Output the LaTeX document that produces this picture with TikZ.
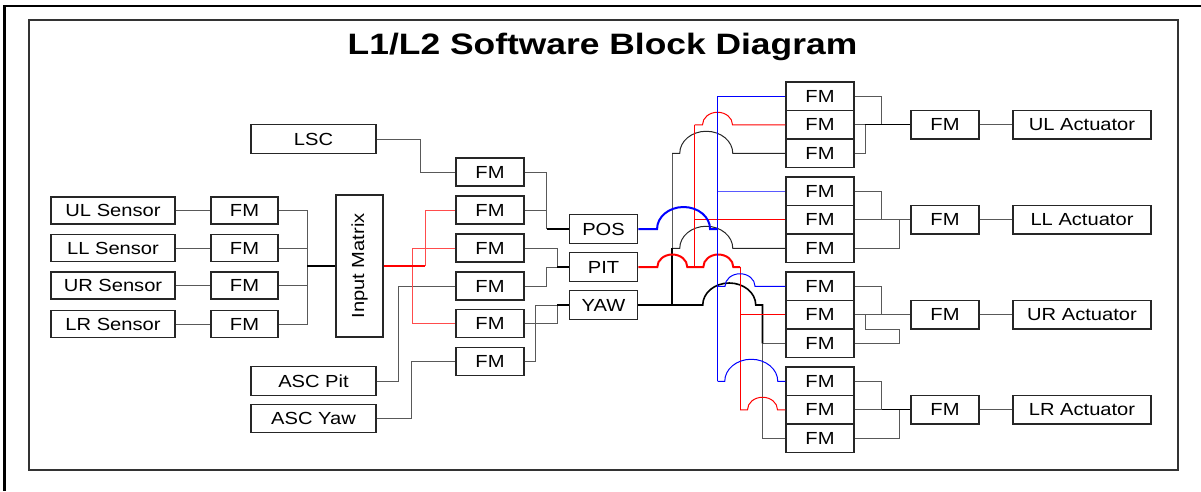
\documentclass[tikz,border=0pt]{standalone}
\usepackage{fontspec}
\setmainfont{Liberation Sans}
\newfontfamily\boxfont{Liberation Sans}[FakeStretch=1.15]
\newfontfamily\ttlfont{Liberation Sans}[FakeStretch=1.2]
\begin{document}
\begin{tikzpicture}[x=1pt,y=-1pt,
  box/.style={draw=black!85,line width=1.1pt,fill=white,inner sep=0pt,
    font=\boxfont\fontsize{17.5}{20}\selectfont},
  senbox/.style={box,minimum width=124pt,minimum height=27pt},
  smallfm/.style={box,minimum width=67pt,minimum height=27pt},
  fmbox/.style={box,minimum width=68pt,minimum height=28.5pt},
  srcbox/.style={box,minimum width=125pt,minimum height=28.5pt},
  actbox/.style={box,minimum width=138pt,minimum height=28.5pt},
  wire/.style={draw=black!65,line width=1pt},
  dwire/.style={draw=black!85,line width=1pt},
  thk/.style={draw=black,line width=2pt},
  lred/.style={draw=red!70,line width=1pt},
]
\useasboundingbox (0,0) rectangle (1201,491);
% frames
\draw[line width=2.5pt] (3,6) -- (1201,6);
\draw[line width=2.5pt] (4.5,5) -- (4.5,491);
\draw[draw=black!80,line width=1.2pt] (29,20) rectangle (1178,470);
\node[font=\ttlfont\bfseries\fontsize{29.5}{32}\selectfont,anchor=base] (title) at (602.5,54) {L1/L2 Software Block Diagram};

% sensors
\node[senbox] (sen1) at (113,210.5) {UL Sensor};
\node[senbox] (sen2) at (113,248) {LL Sensor};
\node[senbox] (sen3) at (113,285.5) {UR Sensor};
\node[senbox] (sen4) at (113,324) {LR Sensor};
\node[smallfm] (sfm1) at (244.5,210.5) {FM};
\node[smallfm] (sfm2) at (244.5,248) {FM};
\node[smallfm] (sfm3) at (244.5,285.5) {FM};
\node[smallfm] (sfm4) at (244.5,324) {FM};
\node[box,minimum width=47pt,minimum height=142pt] (im) at (359.5,266) {\rotatebox{90}{Input Matrix}};

% sources
\node[srcbox] (lsc) at (313.5,139) {LSC};
\node[srcbox] (ascp) at (313.5,381) {ASC Pit};
\node[srcbox] (ascy) at (313.5,418.5) {ASC Yaw};

% column 2 FMs
\node[fmbox,minimum height=28pt] (f1) at (490,172) {FM};
\node[fmbox,minimum height=28pt] (f2) at (490,210) {FM};
\node[fmbox,minimum height=28pt] (f3) at (490,248) {FM};
\node[fmbox,minimum height=28pt] (f4) at (490,286) {FM};
\node[fmbox,minimum height=28pt] (f5) at (490,323.5) {FM};
\node[fmbox,minimum height=28pt] (f6) at (490,361.5) {FM};

% POS PIT YAW
\node[fmbox,minimum width=68.5pt] (pos) at (603.5,229) {POS};
\node[fmbox,minimum width=68.5pt] (pit) at (603.5,267) {PIT};
\node[fmbox,minimum width=68.5pt] (yaw) at (603.5,305) {YAW};

% right stacks
\node[fmbox] (g1a) at (820,96.25) {FM};
\node[fmbox] (g1b) at (820,124.75) {FM};
\node[fmbox] (g1c) at (820,153.25) {FM};
\node[fmbox] (g2a) at (820,191.25) {FM};
\node[fmbox] (g2b) at (820,219.75) {FM};
\node[fmbox] (g2c) at (820,248.25) {FM};
\node[fmbox] (g3a) at (820,286.25) {FM};
\node[fmbox] (g3b) at (820,314.75) {FM};
\node[fmbox] (g3c) at (820,343.25) {FM};
\node[fmbox] (g4a) at (820,381.25) {FM};
\node[fmbox] (g4b) at (820,409.75) {FM};
\node[fmbox] (g4c) at (820,438.25) {FM};

\node[fmbox] (cf1) at (945,124.75) {FM};
\node[fmbox] (cf2) at (945,219.75) {FM};
\node[fmbox] (cf3) at (945,314.75) {FM};
\node[fmbox] (cf4) at (945,409.75) {FM};
\node[actbox] (act1) at (1082,124.75) {UL Actuator};
\node[actbox] (act2) at (1082,219.75) {LL Actuator};
\node[actbox] (act3) at (1082,314.75) {UR Actuator};
\node[actbox] (act4) at (1082,409.75) {LR Actuator};

% sensor wiring
\foreach \i in {1,2,3,4} \draw[wire] (sen\i.east) -- (sfm\i.west);
\coordinate (sbus) at (307,0);
\draw[wire] (sfm1.east) -- (sbus |- sfm1.east) -- (sbus |- sfm4.east) -- (sfm4.east);
\draw[wire] (sfm2.east) -- (sbus |- sfm2.east);
\draw[wire] (sfm3.east) -- (sbus |- sfm3.east);
\draw[thk] (sbus |- im.west) -- (im.west);

% sources wiring
\draw[wire] (lsc.east) -- ++(44,0) |- (f1.west);
\draw[wire] (ascp.east) -- ++(22,0) |- (f4.west);
\draw[wire] (ascy.east) -- ++(35,0) |- (f6.west);

% input matrix red outputs
\coordinate (ra) at (425,0);
\coordinate (rb) at (412,0);
\draw[lred] (ra |- im.east) |- (f2.west);
\draw[lred] (f3.west) -| (rb |- f5.west) -- (f5.west);
\draw[red,line width=2pt] (im.east) -- (ra |- im.east);

% column 2 to POS/PIT/YAW
\coordinate (ca) at (546.5,0);
\coordinate (cb) at (557,0);
\coordinate (cc) at (535,0);
\draw[wire] (f1.east) -| (ca |- pos.west);
\draw[wire] (f2.east) -- (ca |- f2.east);
\draw[thk] (ca |- pos.west) -- (pos.west);
\draw[wire] (f3.east) -| (cb |- pit.west);
\draw[wire] (f4.east) -| (ca |- pit.west) -- (cb |- pit.west);
\draw[thk] (cb |- pit.west) -- (pit.west);
\draw[wire] (f5.east) -| (cb |- yaw.west);
\draw[wire] (f6.east) -| (cc |- yaw.west) -- (cb |- yaw.west);
\draw[thk] (cb |- yaw.west) -- (yaw.west);

% buses on the right
\coordinate (B1) at (672,0);
\coordinate (R1) at (694.5,0);
\coordinate (BL) at (717.5,0);
\coordinate (R2) at (740,0);
\coordinate (B2) at (762.5,0);

% black (YAW)
\draw[wire] (B1 |- g2c.west) -- (B1 |- g1c.west);
\draw[dwire] (B1 |- g1c.west) -- ++(7.75,0) arc[start angle=180,end angle=0,x radius=26.5pt,y radius=22pt] -- (g1c.west);
\draw[dwire] (B1 |- g2c.west) -- ++(7.75,0) arc[start angle=180,end angle=0,x radius=26.5pt,y radius=22pt] -- (g2c.west);
\draw[wire] (B2 |- g3c.west) -- (B2 |- g4c.west) -- (g4c.west);
\draw[wire] (B2 |- g3c.west) -- (g3c.west);
\draw[black,line width=1.6pt] (B1 |- yaw.east) -- ++(30.75,0) arc[start angle=180,end angle=0,x radius=26.5pt,y radius=22pt] -- (B2 |- yaw.east) -- (B2 |- g3c.west);
\draw[thk] (B1 |- yaw.east) -- (B1 |- g2c.west);
\draw[thk] (yaw.east) -- (B1 |- yaw.east);

% red (PIT)
\draw[red,line width=1pt] (R1 |- pit.east) -- (R1 |- g1b.west);
\draw[red,line width=1pt] (R1 |- g1b.west) -- ++(8,0) arc[start angle=180,end angle=0,x radius=15pt,y radius=12.5pt] -- (g1b.west);
\draw[red,line width=1pt] (R1 |- g2b.west) -- (g2b.west);
\draw[red,line width=1pt] (R2 |- pit.east) -- (R2 |- g4b.west);
\draw[red,line width=1pt] (R2 |- g3b.west) -- (g3b.west);
\draw[red,line width=1pt] (R2 |- g4b.west) -- ++(7.5,0) arc[start angle=180,end angle=0,x radius=15pt,y radius=12.5pt] -- (g4b.west);
\draw[red,line width=2pt] (pit.east) -- ++(19,0) arc[start angle=180,end angle=0,x radius=15pt,y radius=12.5pt] -- ++(16,0) arc[start angle=180,end angle=0,x radius=15pt,y radius=12.5pt] -- (R2 |- pit.east);

% blue (POS)
\draw[blue,line width=1pt] (BL |- g1a.west) -- (BL |- g4a.west);
\draw[blue,line width=1pt] (BL |- g1a.west) -- (g1a.west);
\draw[blue!65,line width=1pt] (BL |- g2a.west) -- (g2a.west);
\draw[blue,line width=1pt] (BL |- g3a.west) -- ++(7.5,0) arc[start angle=180,end angle=0,x radius=15pt,y radius=12.5pt] -- (g3a.west);
\draw[blue,line width=1pt] (BL |- g4a.west) -- ++(7.25,0) arc[start angle=180,end angle=0,x radius=26.5pt,y radius=22pt] -- (g4a.west);
\draw[blue,line width=2pt] (pos.east) -- ++(18.75,0) arc[start angle=180,end angle=0,x radius=26.5pt,y radius=22pt] -- (BL |- pos.east);

% stacks to combined FMs
\coordinate (xa) at (865,0);
\coordinate (xb) at (881.7,0);
\coordinate (xc) at (899.3,0);
\draw[wire] (g1a.east) -| (xb |- g1b.east);
\draw[wire] (g1b.east) -- (cf1.west);
\draw[wire] (g1c.east) -| (xa |- g1b.east);
\draw[black,line width=1.4pt] (xa |- g1b.east) -- (cf1.west);
\draw[wire] (g2a.east) -| (xb |- g2b.east);
\draw[wire] (g2b.east) -- (cf2.west);
\draw[wire] (g2c.east) -| (xc |- g2b.east);
\draw[wire] (g3a.east) -| (xb |- g3b.east);
\draw[wire] (g3b.east) -- (cf3.west);
\draw[wire] (g3c.east) -| (xc |- g3b.south) -| (xa |- g3b.east);
\draw[wire] (g4a.east) -| (xb |- g4b.east);
\draw[wire] (g4b.east) -- (cf4.west);
\draw[wire] (g4c.east) -| (xc |- g4b.east);
\draw[black,line width=1.4pt] (xb |- g4b.east) -- (cf4.west);
\foreach \i in {1,2,3,4} \draw[wire] (cf\i.east) -- (act\i.west);
\end{tikzpicture}
\end{document}
